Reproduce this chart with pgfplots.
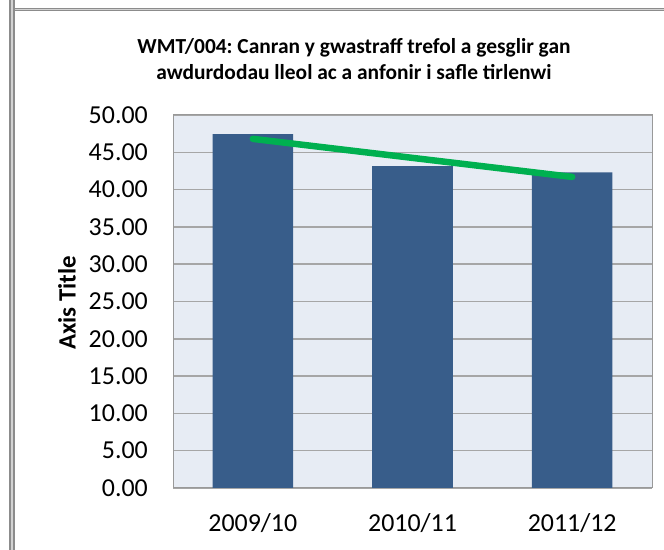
\documentclass[border=0pt]{standalone}
\usepackage{fontspec}
\setmainfont{Carlito}
\usepackage{pgfplots}
\pgfplotsset{compat=1.18}
\frenchspacing
\definecolor{barblue}{HTML}{385D8A}
\definecolor{plotbg}{HTML}{E7ECF4}
\definecolor{gridc}{HTML}{A6A6A6}
\definecolor{trend}{HTML}{00B050}
\definecolor{frame}{HTML}{8C8C8C}
\begin{document}
\begin{tikzpicture}[x=1bp,y=1bp]
\useasboundingbox (0,0) rectangle (664,550);
\fill[white] (0,0) rectangle (664,550);
% outer frame (clipped chart border)
\fill[frame] (9,0) rectangle (15,550);
\fill[gray!35] (11,0) rectangle (13,550);
\fill[frame] (15,539) rectangle (664,542);
\fill[gray!35] (15,540) rectangle (664,541);
% title
\node[align=center, font=\fontsize{21.5}{26}\selectfont\bfseries] at (354,491) {WMT/004: Canran y gwastraff trefol a gesglir gan\\awdurdodau lleol ac a anfonir i safle tirlenwi};
% y axis title
\node[rotate=90, font=\fontsize{25}{29}\selectfont\bfseries] at (67,247) {Axis Title};
\begin{axis}[
  at={(173bp,62bp)}, anchor=south west,
  scale only axis, width=479bp, height=373bp,
  xmin=-0.5, xmax=2.5, ymin=0, ymax=50,
  ytick={0,5,...,50},
  xtick={0,1,2},
  xticklabels={2009/10,2010/11,2011/12},
  /pgf/number format/.cd, fixed, fixed zerofill, precision=2, assume math mode=true,
  /pgfplots/.cd,
  ticklabel style={font=\fontsize{26}{30}\selectfont, inner sep=0pt},
  yticklabel shift=25bp,
  xticklabel shift=25bp,
  major tick length=0pt,
  axis background/.style={fill=plotbg},
  axis line style={draw=gray!80, line width=1pt},
  ymajorgrids,
  grid style={draw=gridc, line width=1.5bp},
  clip=false,
]
\addplot[ybar, bar width=0.505, fill=barblue, draw=none] coordinates {(0,47.45) (1,43.15) (2,42.3)};
\addplot[trend, line width=6.5bp, line cap=round] coordinates {(0,46.8) (2,41.7)};
\end{axis}
\end{tikzpicture}
\end{document}
